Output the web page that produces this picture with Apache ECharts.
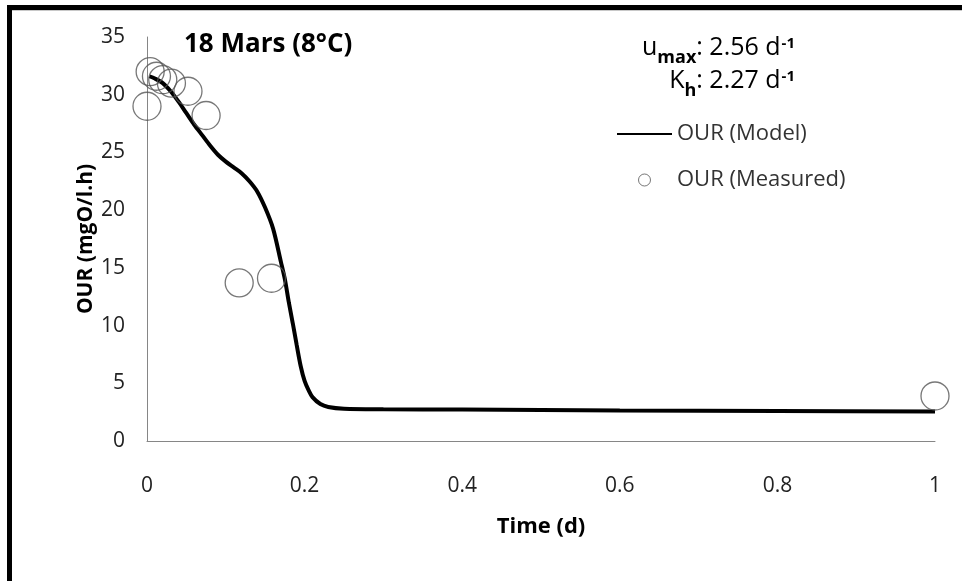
<!DOCTYPE html>
<html>
<head>
<meta charset="utf-8">
<script src="https://cdn.jsdelivr.net/npm/echarts@6/dist/echarts.min.js"></script>
<style>
  html, body { margin: 0; padding: 0; background: #fff; }
  #chart { width: 962px; height: 581px; }
</style>
</head>
<body>
<div id="chart"></div>
<script>
// Model curve (time in days, OUR in mgO/l.h)
const modelTime = [0.003, 0.01, 0.02, 0.03, 0.04, 0.05, 0.06, 0.07, 0.08, 0.09, 0.10, 0.11, 0.12, 0.13, 0.14, 0.15, 0.16, 0.17, 0.175, 0.18, 0.185, 0.19, 0.195, 0.20, 0.205, 0.21, 0.22, 0.23, 0.25, 0.30, 0.40, 0.60, 0.80, 1.0];
const modelOUR  = [31.6, 31.4, 31.0, 30.3, 29.4, 28.4, 27.4, 26.5, 25.6, 24.8, 24.2, 23.7, 23.2, 22.5, 21.6, 20.2, 18.4, 15.5, 14.0, 12.0, 10.2, 8.3, 6.5, 5.2, 4.4, 3.8, 3.2, 2.95, 2.8, 2.75, 2.72, 2.65, 2.6, 2.55];

// Measured points
const measuredTime = [0.0, 0.004, 0.012, 0.020, 0.031, 0.052, 0.075, 0.117, 0.158, 1.0];
const measuredOUR  = [29.0, 32.0, 31.6, 31.3, 31.0, 30.3, 28.2, 13.7, 14.1, 3.9];

// Axis ticks
const xTicks = [0, 0.2, 0.4, 0.6, 0.8, 1];
const yTicks = [0, 5, 10, 15, 20, 25, 30, 35];

const seriesNames = ['OUR (Model)', 'OUR (Measured)'];

const FONT = '"Open Sans", Lato, sans-serif';
const chart = echarts.init(document.getElementById('chart'), null, { renderer: 'canvas' });

const modelData = modelTime.map((t, i) => [t, modelOUR[i]]);
const measuredData = measuredTime.map((t, i) => [t, measuredOUR[i]]);

const paramRich = {
  main: { fontFamily: FONT, fontSize: 25, color: '#222', lineHeight: 30 },
  sub:  { fontFamily: FONT, fontSize: 18, fontWeight: 'bold', color: '#222', verticalAlign: 'bottom', lineHeight: 30, padding: [0, 0, -4, 0] },
  sup:  { fontFamily: FONT, fontSize: 15, fontWeight: 'bold', color: '#222', verticalAlign: 'top', lineHeight: 30, padding: [3, 0, 0, 1] }
};

chart.setOption({
  backgroundColor: '#ffffff',
  animation: false,
  grid: { left: 147, right: 27, top: 37, bottom: 140 },
  xAxis: {
    type: 'value',
    min: xTicks[0],
    max: xTicks[xTicks.length - 1],
    interval: 0.2,
    name: 'Time (d)',
    nameLocation: 'middle',
    nameGap: 75,
    nameMoveOverlap: false,
    nameTextStyle: { fontFamily: FONT, fontWeight: 'bold', fontSize: 22, color: '#000' },
    axisLine: { lineStyle: { color: '#868686', width: 1 } },
    axisTick: { show: false },
    splitLine: { show: false },
    axisLabel: {
      margin: 35, fontFamily: FONT, fontSize: 21, color: '#222',
      formatter: v => String(+v.toFixed(1))
    }
  },
  yAxis: {
    type: 'value',
    min: yTicks[0],
    max: yTicks[yTicks.length - 1],
    interval: 5,
    name: 'OUR (mgO/l.h)',
    nameLocation: 'middle',
    nameGap: 50,
    nameMoveOverlap: false,
    nameRotate: 90,
    nameTextStyle: { fontFamily: FONT, fontWeight: 'bold', fontSize: 21, color: '#000' },
    axisLine: { show: true, lineStyle: { color: '#868686', width: 1 } },
    axisTick: { show: false },
    splitLine: { show: false },
    axisLabel: { margin: 22, fontFamily: FONT, fontSize: 21, color: '#222' }
  },
  legend: {
    orient: 'vertical',
    left: 611,
    top: 118,
    itemWidth: 55,
    itemHeight: 12,
    itemGap: 24,
    textStyle: { fontFamily: FONT, fontSize: 22, color: '#333' },
    data: [
      { name: seriesNames[0], itemStyle: { opacity: 0 } },
      { name: seriesNames[1], icon: 'circle', itemStyle: { color: '#fff', borderColor: '#555', borderWidth: 1 } }
    ]
  },
  series: [
    {
      name: seriesNames[0],
      type: 'line',
      data: modelData,
      smooth: 0.3,
      showSymbol: false,
      symbol: 'none',
      lineStyle: { color: '#000', width: 4 },
      itemStyle: { color: '#000' },
      z: 2
    },
    {
      name: seriesNames[1],
      type: 'scatter',
      data: measuredData,
      symbol: 'circle',
      symbolSize: 28,
      itemStyle: { color: 'rgba(255,255,255,0)', borderColor: '#555', borderWidth: 1.3 },
      z: 3
    }
  ],
  graphic: [
    // frame
    { type: 'rect', shape: { x: 7, y: 5, width: 960, height: 5 }, style: { fill: '#000' }, silent: true },
    { type: 'rect', shape: { x: 7, y: 5, width: 5, height: 580 }, style: { fill: '#000' }, silent: true },
    { type: 'line', shape: { x1: 12, y1: 10.5, x2: 962, y2: 10.5 }, style: { stroke: '#c8c8c8', lineWidth: 1 }, silent: true },
    // title
    { type: 'text', x: 184, y: 32, style: { text: '18 Mars (8°C)', font: 'bold 26px ' + FONT, fill: '#000' } },
    // kinetic parameters
    { type: 'text', x: 795, y: 33, style: { text: '{main|u}{sub|max}{main|: 2.56 d}{sup|-1}', align: 'right', rich: paramRich } },
    { type: 'text', x: 795, y: 66, style: { text: '{main|K}{sub|h}{main|: 2.27 d}{sup|-1}', align: 'right', rich: paramRich } }
  ]
});
</script>
</body>
</html>
